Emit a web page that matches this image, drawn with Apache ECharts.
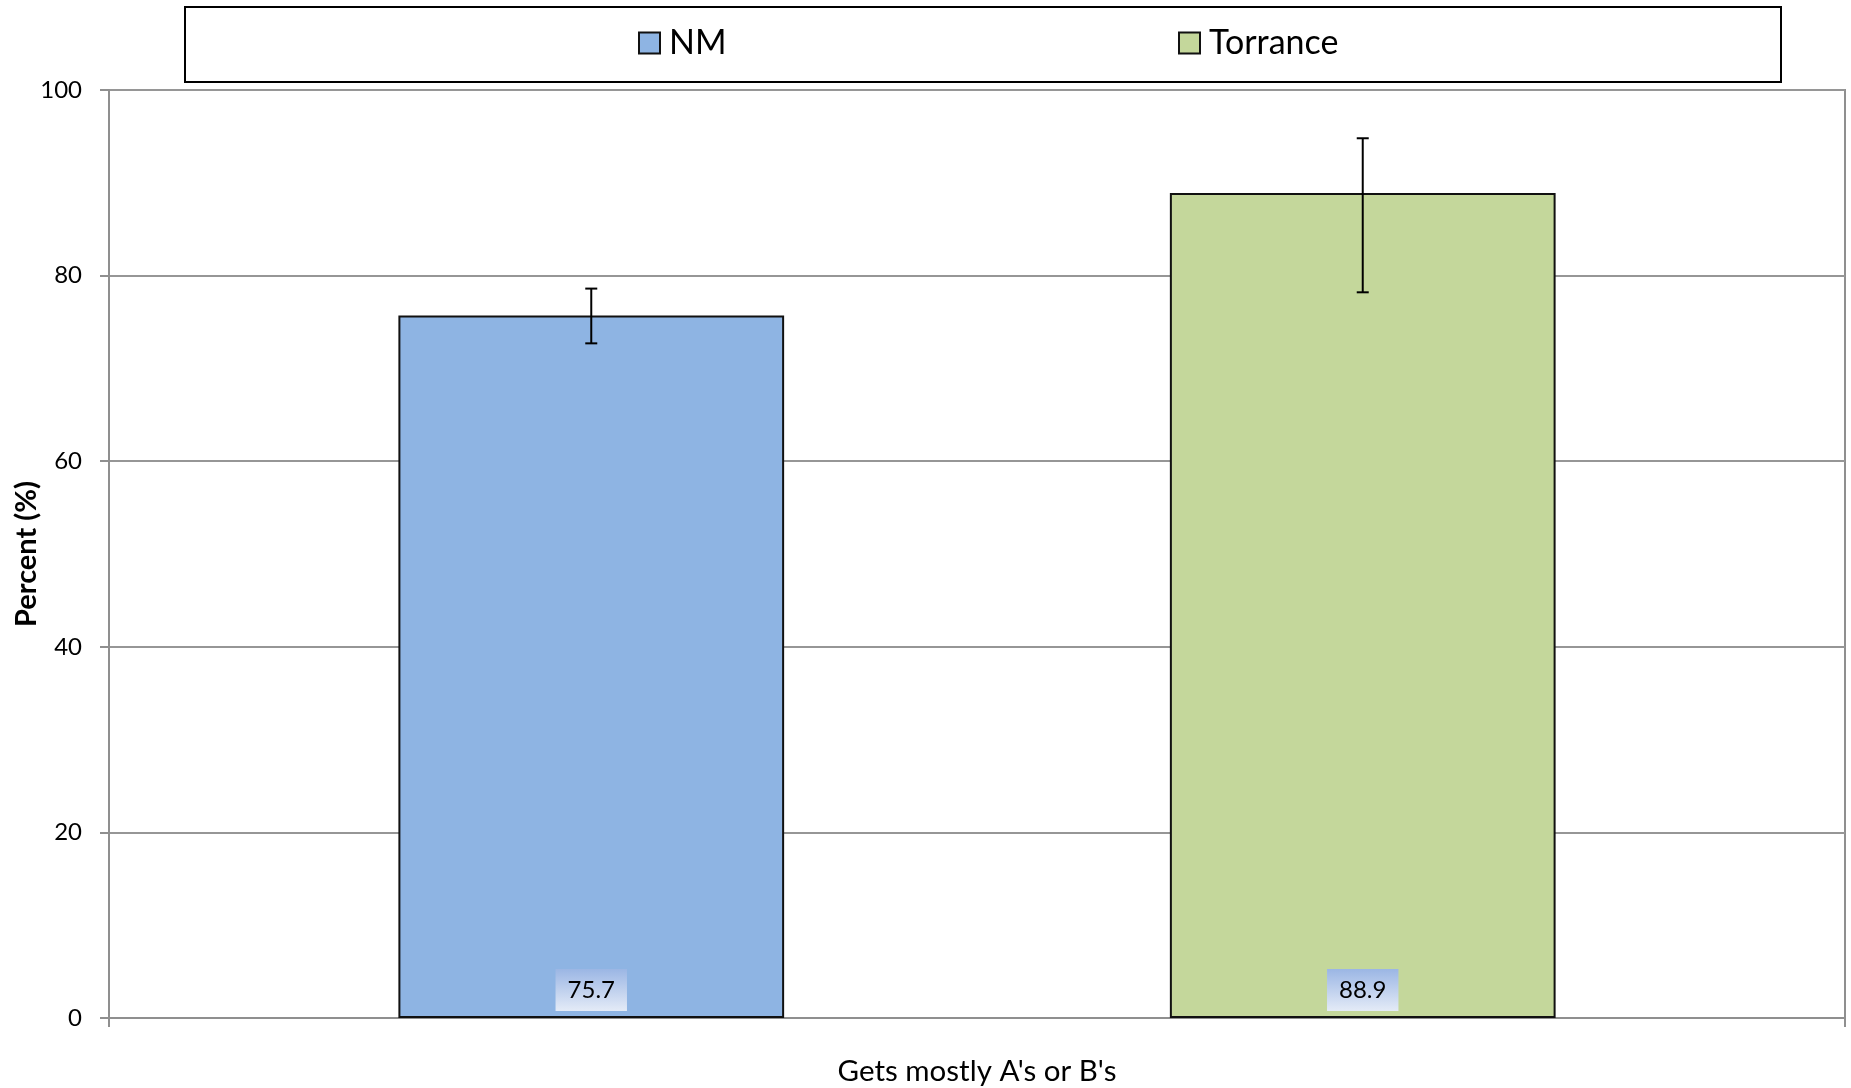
<!DOCTYPE html>
<html>
<head>
<meta charset="utf-8">
<script src="https://cdn.jsdelivr.net/npm/echarts@6/dist/echarts.min.js"></script>
<style>
html,body{margin:0;padding:0;background:#fff;}
#chart{width:1851px;height:1088px;}
</style>
</head>
<body>
<div id="chart"></div>
<script>
const categories = ["Gets mostly A's or B's"];
const seriesNames = ['NM', 'Torrance'];
const nmValues = [75.7];
const torranceValues = [88.9];
const nmErrLow = [72.7];
const nmErrHigh = [78.6];
const torranceErrLow = [78.2];
const torranceErrHigh = [94.8];
const yMin = 0, yMax = 100, yInterval = 20;

const FONT = 'Lato, "Open Sans", "Liberation Sans", sans-serif';
const BAR_FRAC = 0.2222;

const chart = echarts.init(document.getElementById('chart'), null, {renderer: 'canvas'});

function errSeries(name, lows, highs, dir) {
  return {
    type: 'custom',
    name: name + ' err',
    z: 10,
    silent: true,
    data: categories.map((c, i) => [i, lows[i], highs[i]]),
    renderItem: function (params, api) {
      const xi = api.value(0);
      const lo = api.coord([xi, api.value(1)]);
      const hi = api.coord([xi, api.value(2)]);
      const bw = api.size([1, 0])[0] * BAR_FRAC;
      const cx = lo[0] + dir * bw;
      const cap = 6;
      const st = {stroke: '#000', lineWidth: 2};
      return {
        type: 'group',
        children: [
          {type: 'line', shape: {x1: cx, y1: hi[1], x2: cx, y2: lo[1]}, style: st},
          {type: 'line', shape: {x1: cx - cap, y1: hi[1], x2: cx + cap, y2: hi[1]}, style: st},
          {type: 'line', shape: {x1: cx - cap, y1: lo[1], x2: cx + cap, y2: lo[1]}, style: st}
        ]
      };
    }
  };
}

const labelBg = new echarts.graphic.LinearGradient(0, 0, 0, 1, [
  {offset: 0, color: '#9bb6e4'},
  {offset: 1, color: '#e4ebf7'}
]);

function barLabel() {
  return {
    show: true,
    position: 'insideBottom',
    distance: 7,
    formatter: p => p.value.toFixed(1),
    fontFamily: FONT,
    fontSize: 24,
    color: '#000',
    lineHeight: 24,
    padding: [9, 12, 9, 12],
    backgroundColor: labelBg
  };
}

const option = {
  backgroundColor: '#fff',
  animation: false,
  textStyle: {fontFamily: FONT},
  graphic: [{
    type: 'rect',
    left: 184, top: 6,
    shape: {width: 1596, height: 75},
    style: {fill: '#fff', stroke: '#000', lineWidth: 2},
    z: -1
  }],
  legend: [
    {data: [seriesNames[0]], left: 638, top: 26, padding: 0, itemWidth: 21, itemHeight: 21,
     icon: 'rect', textStyle: {fontFamily: FONT, fontSize: 34, color: '#000', padding: [0, 0, 0, 4]}},
    {data: [seriesNames[1]], left: 1178, top: 26, padding: 0, itemWidth: 21, itemHeight: 21,
     icon: 'rect', textStyle: {fontFamily: FONT, fontSize: 34, color: '#000', padding: [0, 0, 0, 4]}}
  ],
  grid: {
    left: 109, right: 6, top: 90, bottom: 70,
    outerBoundsMode: 'none',
    containLabel: false,
    show: true, borderColor: '#8f8f8f', borderWidth: 2, backgroundColor: '#fff'
  },
  xAxis: {
    type: 'category',
    data: categories,
    axisLine: {lineStyle: {color: '#8f8f8f', width: 2}},
    axisTick: {show: true, length: 9, lineStyle: {color: '#8f8f8f', width: 2}},
    axisLabel: {margin: 38, fontFamily: FONT, fontSize: 29.5, color: '#000'}
  },
  yAxis: {
    type: 'value',
    min: yMin, max: yMax, interval: yInterval,
    name: 'Percent (%)',
    nameLocation: 'middle',
    nameGap: 68,
    nameMoveOverlap: false,
    nameTextStyle: {fontFamily: FONT, fontSize: 29, fontWeight: 'bold', color: '#000'},
    axisLine: {show: true, lineStyle: {color: '#8f8f8f', width: 2}},
    axisTick: {show: true, length: 9, lineStyle: {color: '#8f8f8f', width: 2}},
    axisLabel: {margin: 27, fontFamily: FONT, fontSize: 24, color: '#000'},
    splitLine: {show: true, lineStyle: {color: '#969696', width: 2}}
  },
  series: [
    {
      type: 'bar', name: seriesNames[0], data: nmValues,
      barWidth: (BAR_FRAC * 100) + '%', barGap: '100%',
      itemStyle: {color: '#8eb4e3', borderColor: '#111', borderWidth: 2},
      label: barLabel()
    },
    {
      type: 'bar', name: seriesNames[1], data: torranceValues,
      barWidth: (BAR_FRAC * 100) + '%', barGap: '100%',
      itemStyle: {color: '#c4d79b', borderColor: '#111', borderWidth: 2},
      label: barLabel()
    },
    errSeries(seriesNames[0], nmErrLow, nmErrHigh, -1),
    errSeries(seriesNames[1], torranceErrLow, torranceErrHigh, 1)
  ]
};
chart.setOption(option);
</script>
</body>
</html>
